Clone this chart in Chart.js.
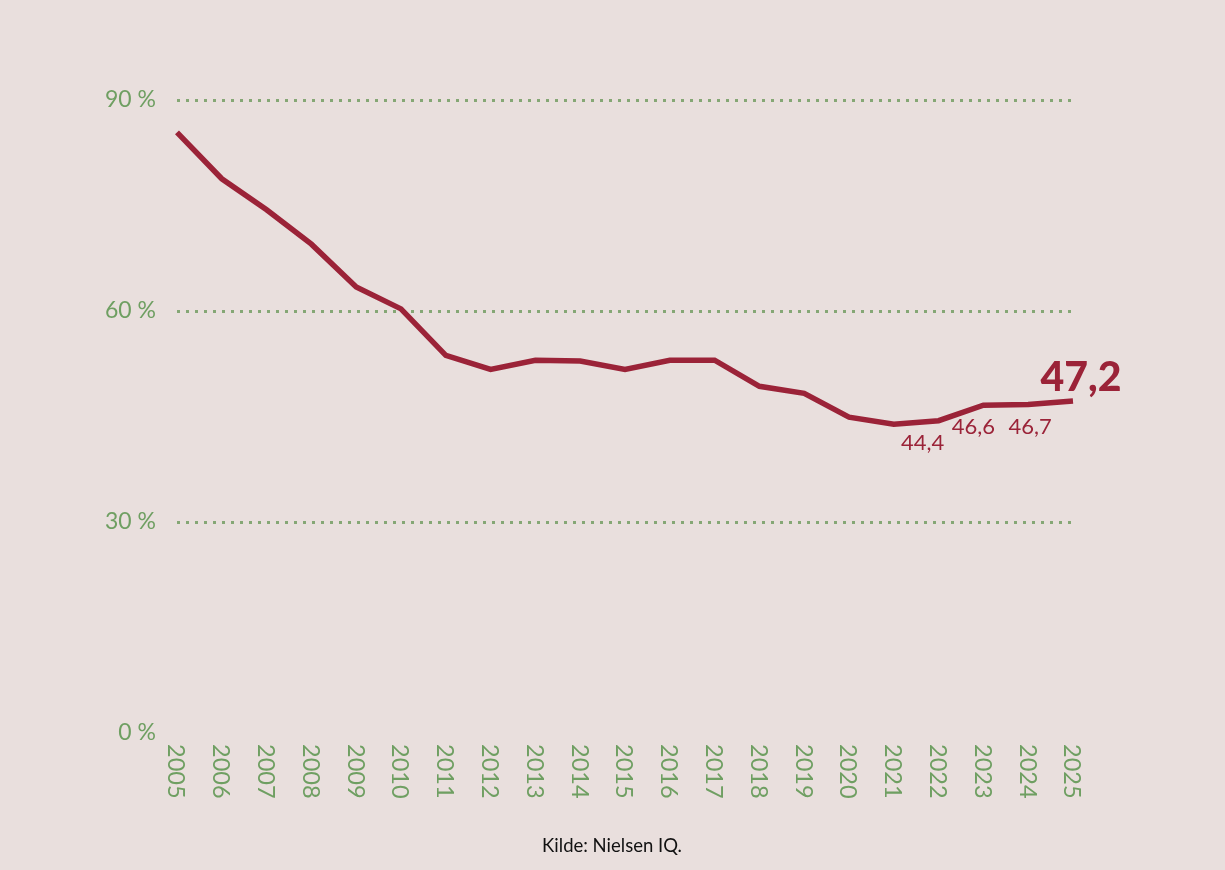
<!DOCTYPE html>
<html>
<head>
<meta charset="utf-8">
<script src="https://cdn.jsdelivr.net/npm/chart.js@4/dist/chart.umd.min.js"></script>
<style>
  html, body { margin: 0; padding: 0; background: #e9dfdd; }
  #wrap { width: 1225px; height: 870px; position: relative; }
</style>
</head>
<body>
<div id="wrap"><canvas id="shareChart"></canvas></div>
<script>
// --- Data ---
const years = ["2005", "2006", "2007", "2008", "2009", "2010", "2011", "2012", "2013", "2014",
  "2015", "2016", "2017", "2018", "2019", "2020", "2021", "2022", "2023", "2024", "2025"];
const shares = [85.4, 78.8, 74.4, 69.5, 63.4, 60.3, 53.7, 51.7, 53.0, 52.9,
  51.7, 53.0, 53.0, 49.3, 48.3, 44.9, 43.9, 44.4, 46.6, 46.7, 47.2];
const yTicks = [0, 30, 60, 90];
const labelledYears = ["2022", "2023", "2024", "2025"];
const sourceText = "Kilde: Nielsen IQ.";

const GREEN = "#6f9f62";
const RED = "#9b2338";
const FONT = "Lato, 'Open Sans', sans-serif";

// --- Rotated year labels (read top to bottom) ---
const yearLabels = {
  id: "yearLabels",
  afterDraw(chart) {
    const { ctx, scales: { x } } = chart;
    ctx.save();
    ctx.fillStyle = GREEN;
    ctx.font = "23.5px " + FONT;
    ctx.textAlign = "left";
    ctx.textBaseline = "middle";
    years.forEach((yr, i) => {
      ctx.save();
      ctx.translate(x.getPixelForValue(i) - 1, chart.chartArea.bottom + 11);
      ctx.rotate(Math.PI / 2);
      ctx.fillText(yr, 0, 0);
      ctx.restore();
    });
    ctx.restore();
  },
};

// --- Value labels at the end of the line ---
const valueLabels = {
  id: "valueLabels",
  afterDatasetsDraw(chart) {
    const { ctx, scales: { x, y } } = chart;
    const offsets = { "2022": [-16, 22], "2023": [-10, 22], "2024": [2, 22], "2025": [8, -23] };
    ctx.save();
    ctx.fillStyle = RED;
    ctx.textAlign = "center";
    ctx.textBaseline = "middle";
    labelledYears.forEach((yr) => {
      const i = years.indexOf(yr);
      const px = x.getPixelForValue(i);
      const py = y.getPixelForValue(shares[i]);
      const last = i === years.length - 1;
      ctx.font = last ? "900 41px " + FONT : "22px " + FONT;
      const txt = shares[i].toFixed(1).replace(".", ",");
      ctx.fillText(txt, px + offsets[yr][0], py + offsets[yr][1]);
    });
    ctx.restore();
  },
};

// --- Source line ---
const sourceNote = {
  id: "sourceNote",
  afterDraw(chart) {
    const { ctx } = chart;
    ctx.save();
    ctx.fillStyle = "#111";
    ctx.font = "18.5px " + FONT;
    ctx.textAlign = "center";
    ctx.textBaseline = "middle";
    ctx.fillText(sourceText, 612, 846);
    ctx.restore();
  },
};

new Chart(document.getElementById("shareChart"), {
  type: "line",
  data: {
    labels: years,
    datasets: [
      {
        data: shares,
        borderColor: RED,
        borderWidth: 5.5,
        pointRadius: 0,
        tension: 0,
        fill: false,
      },
    ],
  },
  options: {
    responsive: true,
    maintainAspectRatio: false,
    animation: false,
    layout: { padding: { top: 100, right: 152, bottom: 129, left: 0 } },
    plugins: {
      legend: { display: false },
      tooltip: { enabled: false },
    },
    scales: {
      x: {
        offset: false,
        ticks: { display: false },
        grid: { display: false },
        border: { display: false },
      },
      y: {
        min: 0,
        max: 90,
        afterBuildTicks: (scale) => {
          scale.ticks = yTicks.map((v) => ({ value: v }));
        },
        afterFit: (scale) => {
          scale.width = 177;
        },
        ticks: {
          color: GREEN,
          font: { family: FONT, size: 23 },
          padding: 21,
          callback: (v) => v + " %",
        },
        grid: {
          drawTicks: false,
          lineWidth: 3,
          color: (c) => (c.tick && c.tick.value === 0 ? "rgba(0,0,0,0)" : "#85a775"),
        },
        border: { display: false, dash: [3, 6] },
      },
    },
  },
  plugins: [yearLabels, valueLabels, sourceNote],
});
</script>
</body>
</html>
